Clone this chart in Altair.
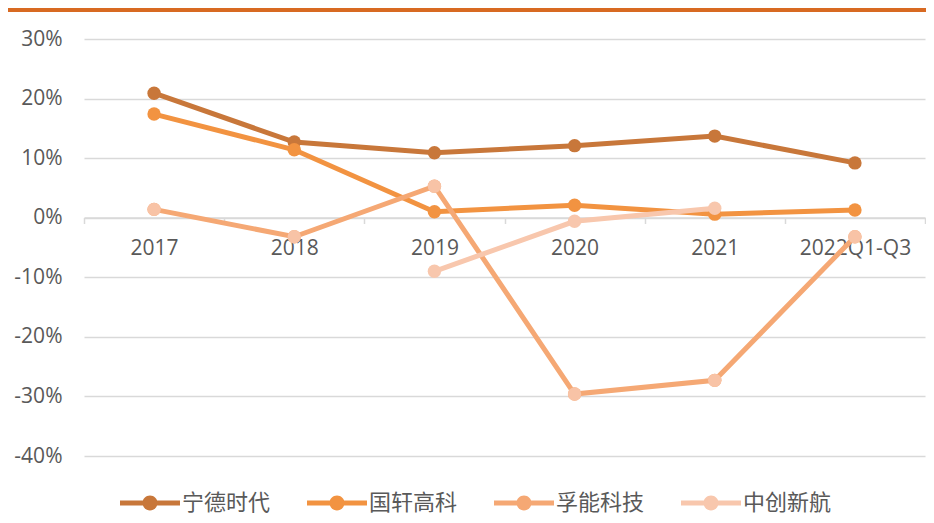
import altair as alt
import pandas as pd

years = ["2017", "2018", "2019", "2020", "2021", "2022Q1-Q3"]
series_names = ["宁德时代", "国轩高科", "孚能科技", "中创新航"]
catl = [0.209, 0.127, 0.109, 0.121, 0.137, 0.092]
gotion = [0.174, 0.114, 0.010, 0.021, 0.006, 0.013]
farasis = [0.014, -0.032, 0.053, -0.296, -0.273, -0.032]
calb = [None, None, -0.090, -0.006, 0.016, None]
line_colors = ["#C8773A", "#F29341", "#F5A874", "#F8C7AD"]
farasis_marker_color = "#F8C3A6"
y_ticks = [-0.4, -0.3, -0.2, -0.1, 0.0, 0.1, 0.2, 0.3]

rows = []
for name, vals in zip(series_names, [catl, gotion, farasis, calb]):
    for yr, v in zip(years, vals):
        if v is not None:
            rows.append({"year": yr, "value": v, "series": name})
df = pd.DataFrame(rows)

W, H = 841, 417
FONT = "Open Sans"
CJK = "Noto Sans CJK SC"
GRAY = "#595959"

x_enc = alt.X(
    "year:N", sort=years,
    scale=alt.Scale(type="band", paddingInner=0, paddingOuter=0),
    axis=alt.Axis(title=None, labelAngle=0, offset=-238.5, grid=False,
                  domainColor="#D9D9D9", domainWidth=1.5,
                  tickColor="#D9D9D9", tickWidth=1.5, tickSize=6, tickBand="extent",
                  labelPadding=14, labelFont=FONT, labelFontSize=21, labelColor=GRAY),
)
y_enc = alt.Y(
    "value:Q",
    scale=alt.Scale(domain=[-0.4, 0.3], nice=False, zero=False),
    axis=alt.Axis(title=None, values=y_ticks, domain=False, ticks=False,
                  gridColor="#D9D9D9", gridWidth=1.5,
                  labelExpr="(datum.value < 0 ? '-' : '') + format(abs(datum.value)*100, '.0f') + '%'",
                  labelPadding=22, labelFont=FONT, labelFontSize=21, labelColor=GRAY),
)

color_scale = alt.Scale(domain=series_names, range=line_colors)

legend_symbol = ("M-1,-0.083H1V0.083H-1Z "
                 "M-0.25,0A0.25,0.25 0 1,1 0.25,0A0.25,0.25 0 1,1 -0.25,0Z")


def make_legend():
    return alt.Legend(
        title=None, orient="none", legendX=36, legendY=434,
        direction="horizontal", columns=4, columnPadding=36,
        labelOffset=2, padding=0, symbolSize=3600,
        symbolType=legend_symbol, symbolStrokeWidth=0,
        labelFont=CJK, labelFontSize=22, labelColor=GRAY)


lines = alt.Chart(df).mark_line(strokeWidth=5).encode(
    x=x_enc, y=y_enc,
    stroke=alt.Stroke("series:N", sort=series_names, scale=color_scale, legend=make_legend()),
)

points = alt.Chart(df).mark_circle(size=180, opacity=1).encode(
    x=x_enc, y=y_enc,
    fill=alt.Fill("series:N", sort=series_names, scale=color_scale, legend=make_legend()),
)

farasis_points = alt.Chart(df).transform_filter(
    alt.datum.series == "孚能科技"
).mark_circle(size=180, opacity=1, color=farasis_marker_color).encode(x=x_enc, y=y_enc)

top_bar = alt.Chart(pd.DataFrame({"a": [0]})).mark_rule(strokeWidth=4, color="#D86A22").encode(
    x=alt.value(-76), x2=alt.value(W + 1), y=alt.value(-29)
)

chart = alt.layer(lines, points, farasis_points, top_bar).properties(
    width=W, height=H,
    padding={"left": 76, "top": 31, "right": 1, "bottom": 59},
    autosize=alt.AutoSizeParams(type="none"),
    background="white",
).configure_view(stroke=None)

chart.save("out.html", embed_options={"renderer": "svg", "actions": False})
